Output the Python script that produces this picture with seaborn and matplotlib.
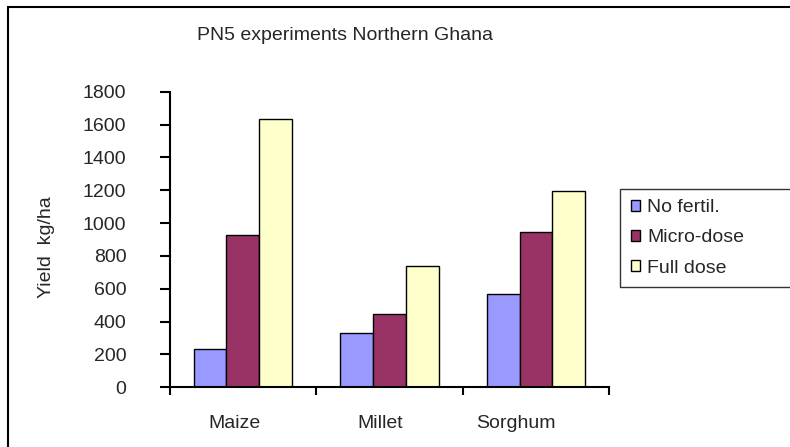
import matplotlib
matplotlib.use('Agg')
import matplotlib.pyplot as plt
import matplotlib.transforms as mtransforms
from matplotlib.patches import Rectangle
import seaborn as sns
import pandas as pd

# Données
crops = ['Maize', 'Millet', 'Sorghum']
treatments = ['No fertil.', 'Micro-dose', 'Full dose']
no_fertil = [235, 330, 570]
micro_dose = [930, 445, 945]
full_dose = [1635, 740, 1195]
colors = ['#9999FF', '#993366', '#FFFFCC']

df = pd.DataFrame({
    'crop': crops * 3,
    'treatment': [t for t in treatments for _ in crops],
    'yield': no_fertil + micro_dose + full_dose,
})

sns.set_style('white')
plt.rcParams['font.family'] = ['Liberation Sans', 'DejaVu Sans']
plt.rcParams['font.size'] = 14

W, H = 790, 447
fig = plt.figure(figsize=(W / 100, H / 100), dpi=100)
ax = fig.add_axes([169.5 / W, 1 - 387.3 / H, (609.3 - 169.5) / W, (387.3 - 91.7) / H])

sns.barplot(data=df, x='crop', y='yield', hue='treatment', hue_order=treatments,
            palette=colors, width=0.67, edgecolor='black', linewidth=1,
            saturation=1, ax=ax)

ax.set_xlim(-0.5, 2.5)
ax.set_ylim(0, 1800)
ax.set_yticks(range(0, 1801, 200))
ax.set_xlabel('')
ax.set_ylabel('')

# Axes style Excel
for side in ['top', 'right']:
    ax.spines[side].set_visible(False)
for side in ['left', 'bottom']:
    ax.spines[side].set_color('black')
    ax.spines[side].set_linewidth(1.5)

ax.tick_params(axis='y', direction='out', length=7, width=1.5, color='black',
               left=True, pad=24, labelsize=14)

# Graduations aux limites des catégories, étiquettes au centre
ax.set_xticks([-0.5, 0.5, 1.5, 2.5])
ax.set_xticklabels([])
ax.tick_params(axis='x', which='major', direction='out', length=6, width=1.5,
               color='black', bottom=True)
ax.set_xticks([0, 1, 2], minor=True)
ax.set_xticklabels(crops, minor=True)
ax.tick_params(axis='x', which='minor', length=0, pad=20, labelsize=14)
offsets = [-8, -9, -20]
for lab, dx in zip(ax.get_xticklabels(minor=True), offsets):
    lab.set_transform(lab.get_transform() + mtransforms.ScaledTranslation(dx / 100, 0, fig.dpi_scale_trans))

# Légende
if ax.get_legend() is not None:
    ax.get_legend().remove()
handles, labels = ax.get_legend_handles_labels()
leg = fig.legend(handles, labels, loc='upper left',
                 bbox_to_anchor=(620 / W, 1 - 193 / H, 300 / W, 0.01),
                 mode='expand', frameon=True, fancybox=False, fontsize=14,
                 handlelength=0.5, handleheight=0.5, handletextpad=0.35,
                 labelspacing=0.68, borderpad=0.55, borderaxespad=0)
leg.get_frame().set_edgecolor('black')
leg.get_frame().set_linewidth(1)

# Titre et axe Y
fig.text(345 / W, 1 - 35 / H, 'PN5 experiments Northern Ghana', ha='center', va='center', fontsize=14)
fig.text(46.7 / W, 1 - 246.7 / H, 'Yield  kg/ha', rotation=90, ha='center', va='center', fontsize=14)

# Cadre du graphique
fig.patches.append(Rectangle((8 / W, -0.1), 1.2, 1.1 - 7 / H, transform=fig.transFigure,
                             fill=False, edgecolor='black', linewidth=1.5))

plt.savefig('out.png', dpi=100)
plt.close()
